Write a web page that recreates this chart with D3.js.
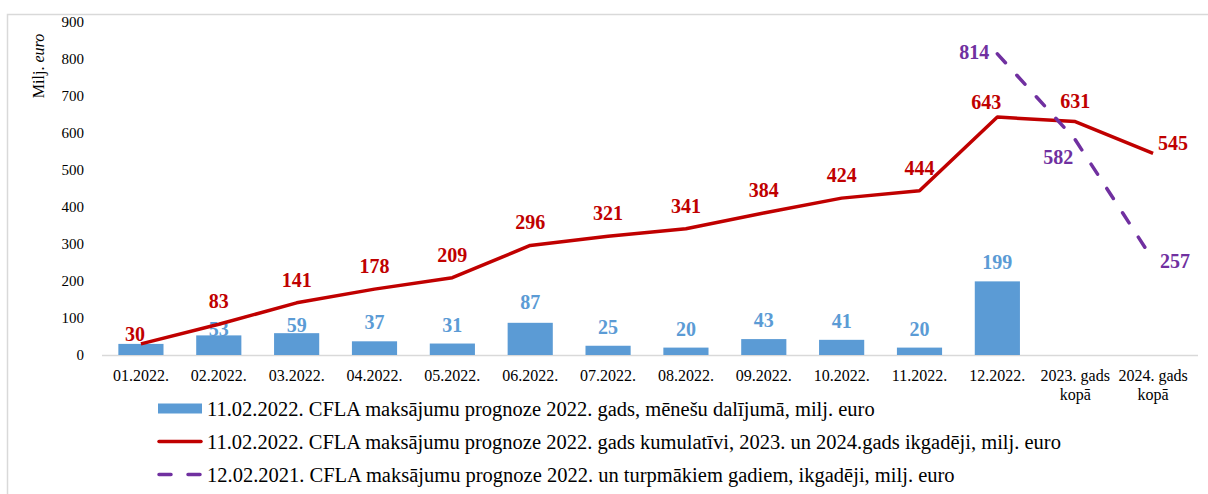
<!DOCTYPE html>
<html>
<head>
<meta charset="utf-8">
<script src="https://cdn.jsdelivr.net/npm/d3@7"></script>
<style>
  body { margin: 0; background: #fff; }
  svg { font-family: "Liberation Serif", "Times New Roman", serif; }
</style>
</head>
<body>
<svg width="1208" height="494"></svg>
<script>
// categories and series
const categories = ["01.2022.", "02.2022.", "03.2022.", "04.2022.", "05.2022.", "06.2022.",
  "07.2022.", "08.2022.", "09.2022.", "10.2022.", "11.2022.", "12.2022.",
  "2023. gads\nkopā", "2024. gads\nkopā"];
const monthly = [30, 53, 59, 37, 31, 87, 25, 20, 43, 41, 20, 199, null, null];
const cumulative = [30, 83, 141, 178, 209, 296, 321, 341, 384, 424, 444, 643, 631, 545];
const forecast2021 = [null, null, null, null, null, null, null, null, null, null, null, 814, 582, 257];
const yTicks = [0, 100, 200, 300, 400, 500, 600, 700, 800, 900];
const legendLabels = [
  "11.02.2022. CFLA maksājumu prognoze 2022. gads, mēnešu dalījumā, milj. euro",
  "11.02.2022. CFLA maksājumu prognoze 2022. gads kumulatīvi, 2023. un 2024.gads ikgadēji, milj. euro",
  "12.02.2021. CFLA maksājumu prognoze 2022. un turpmākiem gadiem, ikgadēji, milj. euro"
];

const blue = "#5B9BD5", red = "#C00000", purple = "#7030A0";

const svg = d3.select("svg");

// outer frame (cut off on the right and bottom like the source)
svg.append("rect")
  .attr("x", 7.5).attr("y", 14.5)
  .attr("width", 1300).attr("height", 600)
  .attr("fill", "none").attr("stroke", "#d9d9d9").attr("stroke-width", 1.5);

const x = d3.scaleBand().domain(categories).range([102, 1192])
  .paddingInner(0.42).paddingOuter(0.21);
const y = d3.scaleLinear().domain([0, 900]).range([355, 22]);
const cx = (d) => x(d) + x.bandwidth() / 2;

// y axis
const yAxis = svg.append("g")
  .attr("transform", "translate(90,0)")
  .call(d3.axisLeft(y).tickValues(yTicks).tickSize(0).tickPadding(6));
yAxis.attr("font-family", null);
yAxis.select(".domain").remove();
yAxis.selectAll("text")
  .attr("font-size", 15).attr("fill", "#000");

const yTitle = svg.append("text")
  .attr("transform", "translate(44,66) rotate(-90)")
  .attr("text-anchor", "middle")
  .attr("font-size", 16).attr("fill", "#000");
yTitle.append("tspan").text("Milj. ");
yTitle.append("tspan").attr("font-style", "italic").text("euro");

// x axis line
svg.append("line")
  .attr("x1", 102).attr("x2", 1198)
  .attr("y1", y(0) + 0.5).attr("y2", y(0) + 0.5)
  .attr("stroke", "#d9d9d9").attr("stroke-width", 1.5);

// x labels
const xl = svg.append("g").selectAll("text")
  .data(categories).enter().append("text")
  .attr("x", (d) => cx(d))
  .attr("y", 381)
  .attr("text-anchor", "middle")
  .attr("font-size", 16).attr("fill", "#000");
xl.each(function (d) {
  const lines = d.split("\n");
  lines.forEach((l, i) => {
    d3.select(this).append("tspan")
      .attr("x", cx(d)).attr("dy", i === 0 ? 0 : 19).text(l);
  });
});

// bars
const barData = categories.map((c, i) => ({ c, v: monthly[i], i })).filter((d) => d.v != null);
svg.append("g").selectAll("rect")
  .data(barData).enter().append("rect")
  .attr("x", (d) => x(d.c))
  .attr("y", (d) => y(d.v))
  .attr("width", x.bandwidth())
  .attr("height", (d) => y(0) - y(d.v))
  .attr("fill", blue);

// first bar label sits hidden under the red "30" in the source
const barDy = { 1: 1, 2: -1, 5: -14 };
svg.append("g").selectAll("text")
  .data(barData.filter((d) => d.i !== 0)).enter().append("text")
  .attr("x", (d) => cx(d.c))
  .attr("y", (d) => y(d.v) + (barDy[d.i] !== undefined ? barDy[d.i] : -12))
  .attr("text-anchor", "middle")
  .attr("font-size", 20).attr("font-weight", "bold").attr("fill", blue)
  .text((d) => d.v);

// cumulative line
const cumData = categories.map((c, i) => ({ c, v: cumulative[i], i }));
const line = d3.line().x((d) => cx(d.c)).y((d) => y(d.v));
svg.append("path")
  .datum(cumData)
  .attr("d", line)
  .attr("fill", "none").attr("stroke", red)
  .attr("stroke-width", 3.5).attr("stroke-linejoin", "round");

// 2021 forecast line
const fcData = categories.map((c, i) => ({ c, v: forecast2021[i], i })).filter((d) => d.v != null);
svg.append("path")
  .datum(fcData)
  .attr("d", line)
  .attr("fill", "none").attr("stroke", purple)
  .attr("stroke-width", 3.5).attr("stroke-linecap", "round")
  .attr("stroke-dasharray", "12,17");

// red labels (manual offsets mimic the source placement)
const redOff = { 0: [-6, -3, "middle"], 11: [-11, -8, "middle"], 12: [0, -14, "middle"], 13: [5, -3, "start"] };
svg.append("g").selectAll("text")
  .data(cumData).enter().append("text")
  .attr("x", (d) => cx(d.c) + (redOff[d.i] ? redOff[d.i][0] : 0))
  .attr("y", (d) => y(d.v) + (redOff[d.i] ? redOff[d.i][1] : -16))
  .attr("text-anchor", (d) => (redOff[d.i] ? redOff[d.i][2] : "middle"))
  .attr("font-size", 20).attr("font-weight", "bold").attr("fill", red)
  .text((d) => d.v);

const purOff = { 11: [-8, 5, "end"], 12: [-2, 24, "end"], 13: [7, 8, "start"] };
svg.append("g").selectAll("text")
  .data(fcData).enter().append("text")
  .attr("x", (d) => cx(d.c) + purOff[d.i][0])
  .attr("y", (d) => y(d.v) + purOff[d.i][1])
  .attr("text-anchor", (d) => purOff[d.i][2])
  .attr("font-size", 20).attr("font-weight", "bold").attr("fill", purple)
  .text((d) => d.v);

// legend
const lg = svg.append("g").attr("transform", "translate(158,0)");
const rowY = [408.5, 441.5, 474.5];
lg.append("rect").attr("x", 0).attr("y", rowY[0] - 5).attr("width", 44).attr("height", 10).attr("fill", blue);
lg.append("line").attr("x1", 1).attr("x2", 43).attr("y1", rowY[1]).attr("y2", rowY[1])
  .attr("stroke", red).attr("stroke-width", 3.5).attr("stroke-linecap", "round");
lg.append("line").attr("x1", 1).attr("x2", 43).attr("y1", rowY[2]).attr("y2", rowY[2])
  .attr("stroke", purple).attr("stroke-width", 3.5).attr("stroke-linecap", "round")
  .attr("stroke-dasharray", "12,17");
lg.selectAll("text.lt")
  .data(legendLabels).enter().append("text")
  .attr("class", "lt")
  .attr("x", 49)
  .attr("y", (d, i) => rowY[i] + 7)
  .attr("font-size", 20.5).attr("fill", "#000")
  .text((d) => d);
</script>
</body>
</html>
